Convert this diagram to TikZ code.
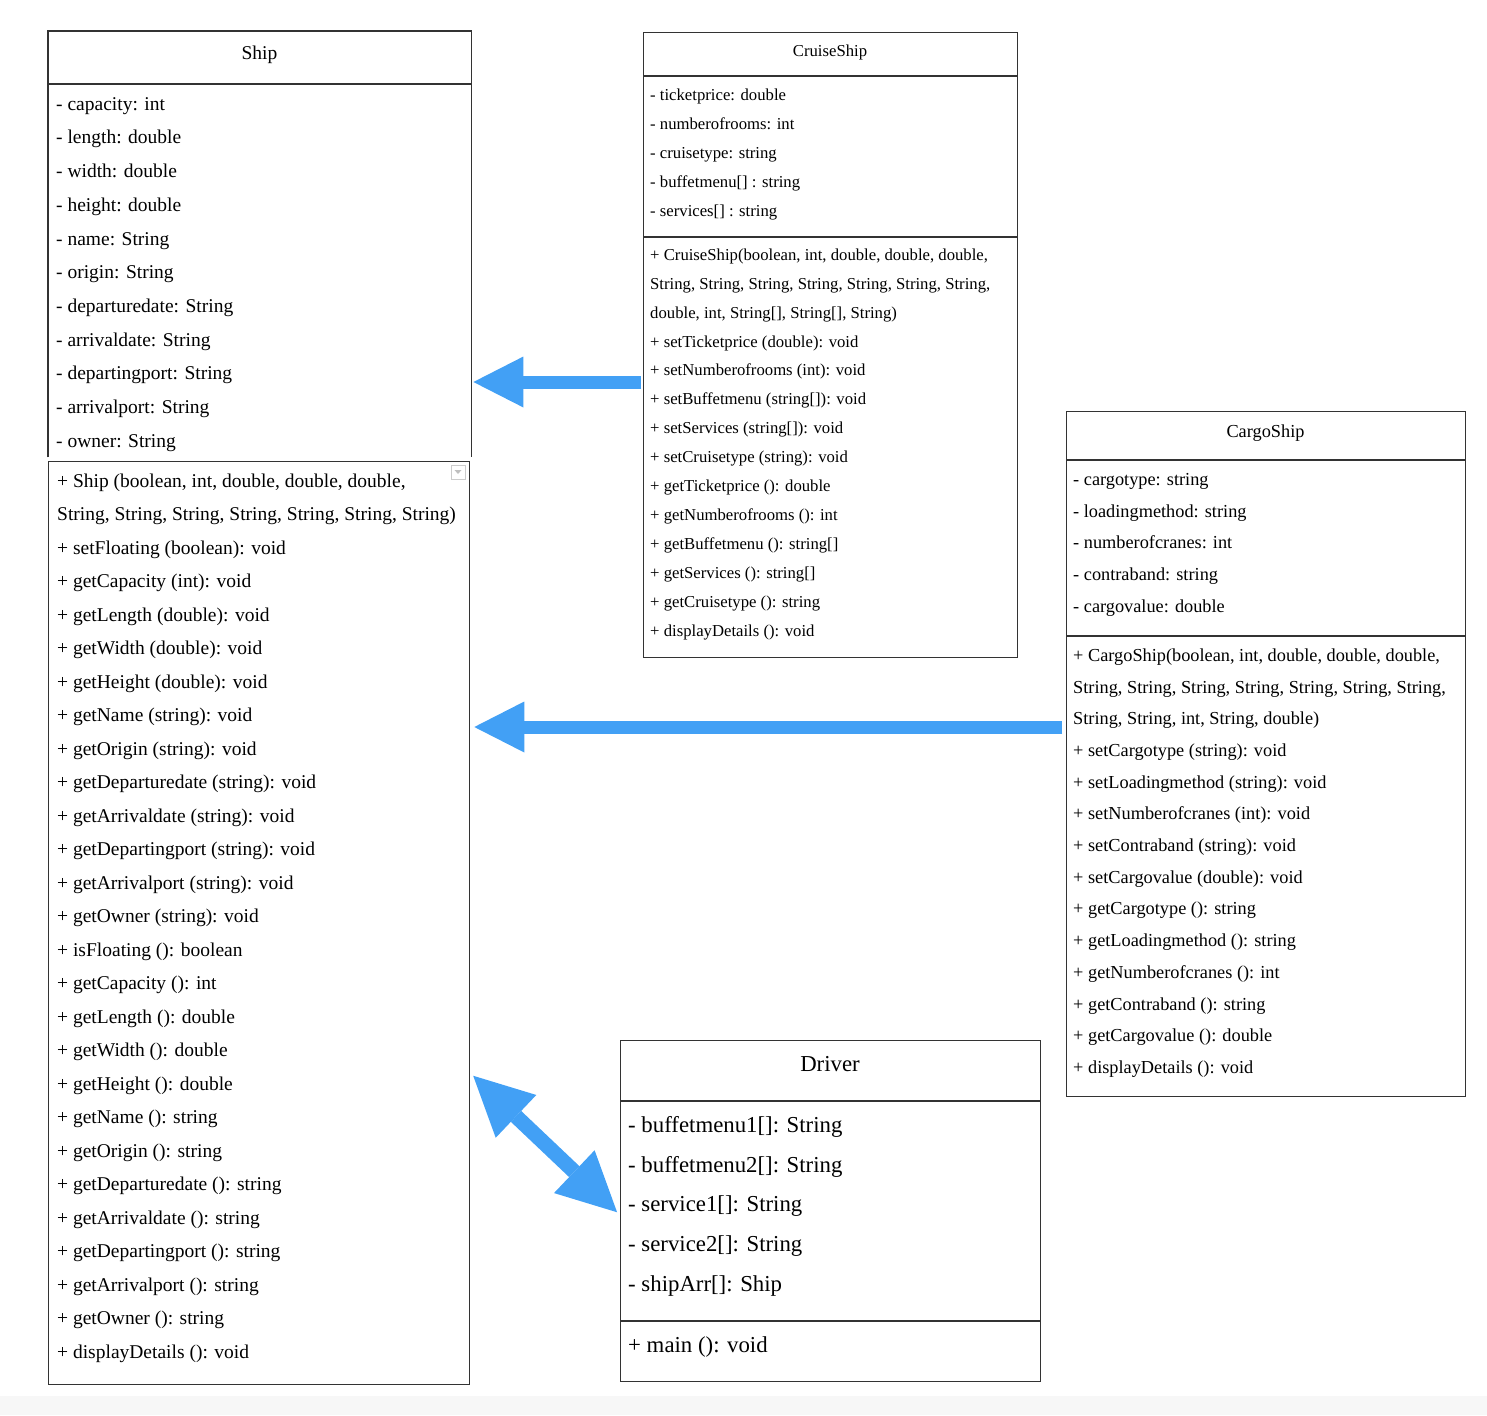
\documentclass[tikz,border=0pt]{standalone}
\usepackage{fontspec}
\setmainfont{Liberation Serif}
\usetikzlibrary{arrows.meta,positioning}

\definecolor{umlblue}{HTML}{42A0F5}
\definecolor{framegray}{HTML}{333333}

\newcommand\shipfont{\fontsize{19.5}{22}\selectfont}
\newcommand\cruisefont{\fontsize{16.7}{19}\selectfont}
\newcommand\cargofont{\fontsize{18.3}{21}\selectfont}
\newcommand\driverfont{\fontsize{22.8}{26}\selectfont}

\tikzset{
  frame/.style={draw=framegray, line width=1.3pt},
  classbox/.style={frame, inner sep=0pt, anchor=north west},
  member/.style={anchor=mid west, inner sep=0pt, yshift=-4pt},
  title/.style={anchor=mid, inner sep=0pt, yshift=-4pt},
  inherit/.style={draw=umlblue, line width=13pt,
    -{Triangle[length=50pt,width=51pt,line width=0pt]}},
  uses/.style={draw=umlblue, line width=15pt,
    {Triangle[length=59pt,width=59pt,line width=0pt]}-{Triangle[length=59pt,width=59pt,line width=0pt]}}
}

\begin{document}
\begin{tikzpicture}[x=1pt,y=-1pt]
\useasboundingbox (0,0) rectangle (1487,1415);
% faint strip at the bottom
\fill[black!3] (0,1396) rectangle (1487,1415);

% Ship: attributes (open at the bottom)
\node[inner sep=0pt, anchor=north west, minimum width=423pt, minimum height=426pt] (ship) at (48,31) {};
\draw[frame] (ship.south west) -- (ship.north west) -- (ship.north east) -- (ship.south east);
\draw[frame] (ship.west |- 0,84) -- (ship.east |- 0,84);
\node[title, font=\shipfont] (shiptitle) at (259.5,53) {Ship};
\foreach \txt [count=\i from 0] in {- capacity: int, - length: double, - width: double,
  - height: double, - name: String, - origin: String, - departuredate: String,
  - arrivaldate: String, - departingport: String, - arrivalport: String, - owner: String}
  \node[member, font=\shipfont] (shipattr-\i) at (56,{104+33.7*\i}) {\txt};

% Ship: operations
\node[classbox, minimum width=421pt, minimum height=923pt] (shipops) at (48,461) {};
\draw[black!20, line width=0.6pt] (451,465) rectangle (465,479);
\fill[black!25] (454.5,470) -- (461.5,470) -- (458,474) -- cycle;
\foreach \txt [count=\i from 0] in {{+ Ship (boolean, int, double, double, double,},
  {String, String, String, String, String, String, String)},
  + setFloating (boolean): void, + getCapacity (int): void, + getLength (double): void,
  + getWidth (double): void, + getHeight (double): void, + getName (string): void,
  + getOrigin (string): void, + getDeparturedate (string): void,
  + getArrivaldate (string): void, + getDepartingport (string): void,
  + getArrivalport (string): void, + getOwner (string): void,
  + isFloating (): boolean, + getCapacity (): int, + getLength (): double,
  + getWidth (): double, + getHeight (): double, + getName (): string,
  + getOrigin (): string, + getDeparturedate (): string, + getArrivaldate (): string,
  + getDepartingport (): string, + getArrivalport (): string, + getOwner (): string,
  + displayDetails (): void}
  \node[member, font=\shipfont] (shipop-\i) at (57,{481+33.5*\i}) {\txt};

% CruiseShip
\node[classbox, minimum width=374pt, minimum height=625pt] (cruise) at (643,32) {};
\draw[frame] (cruise.west |- 0,76) -- (cruise.east |- 0,76);
\draw[frame] (cruise.west |- 0,237) -- (cruise.east |- 0,237);
\node[title, font=\cruisefont] (cruisetitle) at (830,50) {CruiseShip};
\foreach \txt [count=\i from 0] in {- ticketprice: double, - numberofrooms: int,
  - cruisetype: string, {- buffetmenu[] : string}, {- services[] : string}}
  \node[member, font=\cruisefont] (cruiseattr-\i) at (650,{94+29*\i}) {\txt};
\foreach \txt [count=\i from 0] in {{+ CruiseShip(boolean, int, double, double, double,},
  {String, String, String, String, String, String, String,},
  {double, int, String[], String[], String)},
  + setTicketprice (double): void, + setNumberofrooms (int): void,
  {+ setBuffetmenu (string[]): void}, {+ setServices (string[]): void},
  + setCruisetype (string): void, + getTicketprice (): double,
  + getNumberofrooms (): int, {+ getBuffetmenu (): string[]},
  {+ getServices (): string[]}, + getCruisetype (): string, + displayDetails (): void}
  \node[member, font=\cruisefont] (cruiseop-\i) at (650,{254+28.92*\i}) {\txt};

% CargoShip
\node[classbox, minimum width=399pt, minimum height=685pt] (cargo) at (1066,411) {};
\draw[frame] (cargo.west |- 0,460) -- (cargo.east |- 0,460);
\draw[frame] (cargo.west |- 0,636) -- (cargo.east |- 0,636);
\node[title, font=\cargofont] (cargotitle) at (1265.5,431) {CargoShip};
\foreach \txt [count=\i from 0] in {- cargotype: string, - loadingmethod: string,
  - numberofcranes: int, - contraband: string, - cargovalue: double}
  \node[member, font=\cargofont] (cargoattr-\i) at (1073,{479+31.75*\i}) {\txt};
\foreach \txt [count=\i from 0] in {{+ CargoShip(boolean, int, double, double, double,},
  {String, String, String, String, String, String, String,},
  {String, String, int, String, double)},
  + setCargotype (string): void, + setLoadingmethod (string): void,
  + setNumberofcranes (int): void, + setContraband (string): void,
  + setCargovalue (double): void, + getCargotype (): string,
  + getLoadingmethod (): string, + getNumberofcranes (): int,
  + getContraband (): string, + getCargovalue (): double, + displayDetails (): void}
  \node[member, font=\cargofont] (cargoop-\i) at (1073,{655+31.7*\i}) {\txt};

% Driver
\node[classbox, minimum width=420pt, minimum height=341pt] (driver) at (620,1040) {};
\draw[frame] (driver.west |- 0,1101) -- (driver.east |- 0,1101);
\draw[frame] (driver.west |- 0,1321) -- (driver.east |- 0,1321);
\node[title, font=\driverfont, yshift=-1pt] (drivertitle) at (830,1064) {Driver};
\foreach \txt [count=\i from 0] in {{- buffetmenu1[]: String}, {- buffetmenu2[]: String},
  {- service1[]: String}, {- service2[]: String}, {- shipArr[]: Ship}}
  \node[member, font=\driverfont, yshift=-1pt] (driverattr-\i) at (628,{1125+39.75*\i}) {\txt};
\node[member, font=\driverfont, yshift=-1pt] (driverop-0) at (628,1345) {+ main (): void};

% Connectors
\draw[inherit, shorten <=2pt, shorten >=2pt] (cruise.west |- 0,382) -- (ship.east |- 0,382);
\draw[inherit, shorten <=4pt, shorten >=4pt] (cargo.west |- 0,727) -- (shipops.east |- 0,727);
\draw[uses, shorten <=4pt, shorten >=4pt] (shipops.east |- 0,1073) -- (driver.west |- 0,1215);
\end{tikzpicture}
\end{document}
